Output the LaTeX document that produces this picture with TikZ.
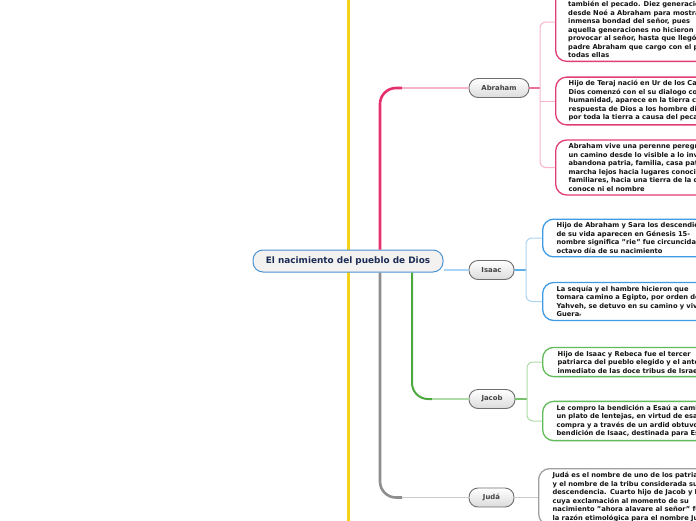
\documentclass[tikz,border=0pt]{standalone}
\usepackage{fontspec}
\setmainfont{DejaVu Sans}
\definecolor{yel}{HTML}{F6D11A}
\definecolor{pinkdark}{HTML}{E6306C}
\definecolor{pinkmid}{HTML}{E8709A}
\definecolor{pinklight}{HTML}{F6B4CB}
\definecolor{pinkc}{HTML}{E23C78}
\definecolor{bluec}{HTML}{3F9BE4}
\definecolor{bluemid}{HTML}{62B0EA}
\definecolor{bluelight}{HTML}{A8D4F5}
\definecolor{greendark}{HTML}{4BA83E}
\definecolor{greenmid}{HTML}{76C26D}
\definecolor{greenlight}{HTML}{AEDCA8}
\definecolor{greenc}{HTML}{62BB5A}
\definecolor{graydark}{HTML}{8E8E8E}
\definecolor{graylight}{HTML}{CBCBCB}
\definecolor{grayc}{HTML}{A0A0A0}
\definecolor{topicborder}{HTML}{6E6E6E}
\definecolor{topictext}{HTML}{444444}
\definecolor{navy}{HTML}{1B2C55}
\definecolor{cfill}{HTML}{F4F1F1}
\definecolor{cborder}{HTML}{4B93D3}
\definecolor{txt}{HTML}{141414}
\begin{document}
\begin{tikzpicture}[x=1pt,y=-1pt,
  topic/.style={draw=topicborder, line width=0.9pt, rounded corners=9pt,
    top color=white, bottom color=gray!28, minimum height=19pt,
    font=\fontsize{6.9}{8}\selectfont\bfseries, text=topictext, inner sep=0pt},
  box/.style={draw=#1, line width=1.3pt, rounded corners=11pt, fill=white,
    align=left, text width=220pt, inner xsep=13pt, inner ysep=3.5pt,
    font=\fontsize{6.7}{8.5}\selectfont\bfseries, text=txt, anchor=west},
  boxtext/.style={align=left, inner sep=0pt, anchor=north west,
    font=\fontsize{6.7}{8.5}\selectfont\bfseries, text=txt}]
\useasboundingbox (0,0) rectangle (696,520);
\clip (0,0) rectangle (696,520);
\fill[white] (0,0) rectangle (696,520);

% yellow line
\draw[yel, line width=3pt] (348,-5) -- (348,525);

% central node
\node[draw=cborder, fill=cfill, line width=1pt, rounded corners=10pt,
  minimum width=190pt, minimum height=22pt, inner sep=0pt,
  font=\fontsize{8.9}{10}\selectfont\bfseries, text=navy] (cn) at (348,261)
  {El nacimiento del pueblo de Dios};

% topic nodes
\node[topic, minimum width=60pt] (abr) at (499,88) {Abraham};
\node[topic, minimum width=45pt] (isaac) at (491.5,270) {Isaac};
\node[topic, minimum width=46pt] (jacob) at (492,399) {Jacob};
\node[topic, minimum width=45pt] (juda) at (491.5,497.5) {Judá};

% main connectors
\draw[pinkdark, line width=2.6pt, rounded corners=16pt] ([xshift=32pt]cn.north) |- (402,88);
\draw[pinklight, line width=1.5pt] (402,88) -- (abr.west);
\draw[graydark, line width=2.6pt, rounded corners=16pt] ([xshift=32pt]cn.south) |- (402,497.5);
\draw[graylight, line width=1.5pt] (402,497.5) -- (juda.west);
\draw[greendark, line width=2pt, rounded corners=16pt] ([xshift=64pt]cn.south) |- (432,399);
\draw[greenlight, line width=1.5pt] (432,399) -- (jacob.west);
\draw[bluelight, line width=1.5pt] ([yshift=-9pt]cn.east) -- (isaac.west);

% Abraham boxes
\node[box=pinkc, anchor=south west, minimum height=120pt] (a1) at (555,62) {};
\node[boxtext] (a1t) at (568,1) {también el pecado. Diez generaciones\\
desde Noé a Abraham para mostrar la\\
inmensa bondad del señor, pues\\
aquella generaciones no hicieron sino\\
provocar al señor, hasta que llegó el\\
padre Abraham que cargo con el peso de\\
todas ellas};
\coordinate (a1c) at (555,22);
\node[box=pinkc] (a2) at (555,101) {Hijo de Teraj nació en Ur de los Caldeos\\
Dios comenzó con el su dialogo con la\\
humanidad, aparece en la tierra como\\
respuesta de Dios a los hombre dispersos\\
por toda la tierra a causa del pecado};
\node[box=pinkc] (a3) at (555,167.5) {Abraham vive una perenne peregrinación\\
un camino desde lo visible a lo invisible\\
abandona patria, familia, casa paterna\\
marcha lejos hacia lugares conocidos\\
familiares, hacia una tierra de la que no\\
conoce ni el nombre};

% Isaac boxes
\node[box=bluec, inner xsep=14pt] (i1) at (542,238) {Hijo de Abraham y Sara los descendientes\\
de su vida aparecen en Génesis 15-\\
nombre significa "rie" fue circuncidado\\
octavo día de su nacimiento};
\node[box=bluec, inner xsep=14pt] (i2) at (542,301.5) {La sequía y el hambre hicieron que\\
tomara camino a Egipto, por orden de\\
Yahveh, se detuvo en su camino y vivió\\
Guera{\fontsize{4}{4}\selectfont r}};

% Jacob boxes
\node[box=greenc, inner xsep=15pt] (j1) at (542,362) {Hijo de Isaac y Rebeca fue el tercer\\
patriarca del pueblo elegido y el antepasado\\
inmediato de las doce tribus de Israel};
\node[box=greenc, inner xsep=14pt] (j2) at (542,421) {Le compro la bendición a Esaú a cambio de\\
un plato de lentejas, en virtud de esa\\
compra y a través de un ardid obtuvo la\\
bendición de Isaac, destinada para Esaú};

% Juda box
\node[box=grayc, anchor=north west, inner xsep=14pt] (d1) at (538,468) {Judá es el nombre de uno de los patriarcas\\
y el nombre de la tribu considerada su\\
descendencia. Cuarto hijo de Jacob y Lía\\
cuya exclamación al momento de su\\
nacimiento "ahora alavare al señor" fue\\
la razón etimológica para el nombre Judá};

% brackets
\draw[pinkmid, line width=1.3pt] (abr.east) -- (540,88);
\draw[pinklight, line width=1pt, rounded corners=6pt] (a1c) -- (540,22) -- (540,167.5) -- (a3.west);
\draw[pinklight, line width=1pt] (540,101) -- (a2.west);

\draw[bluemid, line width=1.3pt] (isaac.east) -- (526,270);
\draw[bluelight, line width=1pt, rounded corners=6pt] (i1.west) -- (526,238) -- (526,301.5) -- (i2.west);

\draw[greenmid, line width=1.3pt] (jacob.east) -- (527,399);
\draw[greenlight, line width=1pt, rounded corners=6pt] (j1.west) -- (527,362) -- (527,421) -- (j2.west);

\draw[graylight, line width=1.3pt] (juda.east) -- (d1.west |- juda.east);
\end{tikzpicture}
\end{document}
